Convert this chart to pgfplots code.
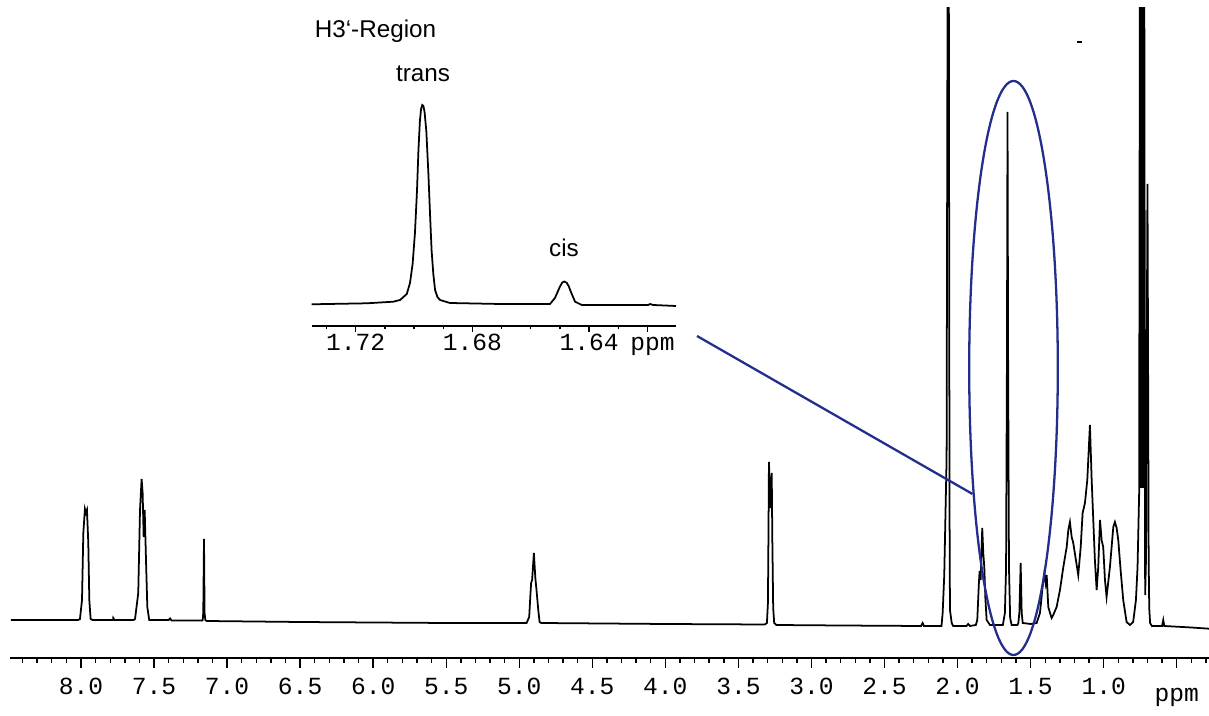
\documentclass[border=0pt]{standalone}
\usepackage{fontspec}
\setmainfont{Liberation Sans}
\newfontfamily\monofont{Liberation Mono}
\usepackage{pgfplots}
\pgfplotsset{compat=1.18}
\definecolor{markblue}{RGB}{35,45,140}

% 1 px of the reference = 0.02cm
\begin{document}
\begin{tikzpicture}
\path[use as bounding box] (0,0) rectangle (24.18cm,14.32cm);

% main spectrum
\begin{axis}[
    at={(0.2cm,1.16cm)}, anchor=south west,
    scale only axis, width=23.98cm, height=13cm,
    x dir=reverse,
    xmin=0.279, xmax=8.486, ymin=0, ymax=650,
    axis x line=bottom, axis y line=none,
    x axis line style={-, line width=1.1pt},
    tick align=outside,
    major tick length=0.2cm, minor tick length=0.1cm,
    every tick/.style={black, line width=0.8pt},
    xtick={0.5,1,1.5,2,2.5,3,3.5,4,4.5,5,5.5,6,6.5,7,7.5,8},
    xticklabels={{\raisebox{-0.15cm}{ppm}\hspace{0.2cm}},1.0,1.5,2.0,2.5,3.0,3.5,4.0,4.5,5.0,5.5,6.0,6.5,7.0,7.5,8.0},
    minor xtick={0.3,0.4,0.6,0.7,0.8,0.9,1.1,1.2,1.3,1.4,1.6,1.7,1.8,1.9,2.1,2.2,2.3,2.4,2.6,2.7,2.8,2.9,3.1,3.2,3.3,3.4,3.6,3.7,3.8,3.9,4.1,4.2,4.3,4.4,4.6,4.7,4.8,4.9,5.1,5.2,5.3,5.4,5.6,5.7,5.8,5.9,6.1,6.2,6.3,6.4,6.6,6.7,6.8,6.9,7.1,7.2,7.3,7.4,7.6,7.7,7.8,7.9,8.1,8.2,8.3,8.4},
    xticklabel style={font=\monofont\fontsize{14}{16}\selectfont, text height=1.6ex, text depth=0pt, anchor=north, yshift=-0.1cm},
]
\addplot[black, line width=1pt] coordinates {
(8.48,38) (8.10,38) (8.02,38) (8.007,39) (7.993,58) (7.984,125) (7.973,149) (7.966,145) (7.959,148) (7.950,115) (7.943,58) (7.934,39) (7.92,38)
(7.78,38) (7.779,40) (7.77,38)
(7.64,38) (7.630,39) (7.608,65) (7.596,148) (7.585,179) (7.578,165) (7.571,121) (7.564,148) (7.555,98) (7.546,51) (7.533,38)
(7.40,38) (7.39,39.5) (7.38,37.5) (7.17,37.5) (7.167,38) (7.163,45) (7.158,119) (7.154,45) (7.149,38) (7.14,37)
(6.5,36) (5.5,35) (4.95,35) (4.932,41) (4.925,60) (4.919,75) (4.912,78) (4.900,105) (4.890,80) (4.882,68) (4.870,48) (4.861,36) (4.85,35)
(4.0,34) (3.32,33.5) (3.305,35) (3.298,55) (3.294,130) (3.291,196) (3.284,165) (3.278,150) (3.272,185) (3.268,120) (3.262,50) (3.255,35) (3.24,33)
(2.8,32.5) (2.25,32) (2.239,35) (2.23,32) (2.11,32) (2.102,45) (2.091,83) (2.075,200) (2.068,700) (2.060,700) (2.055,150) (2.052,48) (2.040,35) (2.03,32)
(1.94,32) (1.927,34) (1.915,32) (1.875,33) (1.865,38) (1.854,75) (1.849,87) (1.842,78) (1.831,130) (1.824,105) (1.817,91) (1.810,61) (1.801,38) (1.778,33)
(1.69,33) (1.676,45) (1.668,90) (1.662,300) (1.658,546) (1.654,300) (1.648,90) (1.640,40) (1.630,33)
(1.590,33) (1.584,35) (1.577,45) (1.568,95) (1.561,45) (1.554,35) (1.50,34)
(1.459,35) (1.436,45) (1.418,71) (1.406,85) (1.397,75) (1.390,83) (1.379,51) (1.367,45) (1.356,40) (1.345,43)
(1.322,51) (1.299,68) (1.276,91) (1.253,111) (1.242,128) (1.231,136) (1.219,121) (1.208,115) (1.190,98) (1.174,83)
(1.157,111) (1.144,145) (1.128,155) (1.112,178) (1.094,233) (1.082,178) (1.071,138) (1.060,98) (1.048,68)
(1.037,91) (1.025,138) (1.014,118) (1.003,111) (0.991,78) (0.980,61)
(0.957,91) (0.934,131) (0.923,136) (0.911,130) (0.900,118) (0.884,88) (0.866,58) (0.843,36) (0.820,33) (0.798,36)
(0.779,58) (0.768,91) (0.757,165) (0.752,700) (0.749,170) (0.746,700) (0.743,170) (0.740,700) (0.737,170) (0.734,700) (0.731,170) (0.728,700) (0.725,170) (0.722,700)
(0.716,63) (0.710,100) (0.705,300) (0.700,474) (0.696,300) (0.692,100) (0.688,50) (0.682,35) (0.670,32)
(0.60,32) (0.592,38) (0.585,32) (0.40,30.5) (0.279,29.3)
};
\end{axis}

% inset: H3' region
\begin{axis}[
    at={(6.234cm,7.8cm)}, anchor=south west,
    scale only axis, width=7.286cm, height=4.42cm,
    x dir=reverse,
    xmin=1.6102, xmax=1.7351, ymin=0, ymax=221,
    clip=false,
    axis x line=bottom, axis y line=none,
    x axis line style={-, line width=1.1pt},
    tick align=outside,
    major tick length=0.12cm, minor tick length=0.07cm,
    every tick/.style={black, line width=0.8pt},
    xtick={1.62,1.64,1.68,1.72},
    xticklabels={{\hspace*{0.2cm}ppm},1.64,1.68,1.72},
    minor xtick={1.61,1.63,1.65,1.66,1.67,1.69,1.70,1.71,1.73},
    xticklabel style={font=\monofont\fontsize{14}{16}\selectfont, text height=1.6ex, text depth=0pt, anchor=north, yshift=0.05cm},
]
\addplot[black, line width=1pt] coordinates {
(1.7351,21.7) (1.7162,22.7) (1.7071,24.3) (1.7048,26) (1.7025,32) (1.7014,43) (1.7005,62) (1.6997,93) (1.6990,135) (1.6985,176) (1.6980,205) (1.6976,217) (1.6972,221) (1.6968,220) (1.6964,214) (1.6958,195) (1.6951,153) (1.6945,110) (1.6940,76) (1.6934,52) (1.6928,36) (1.6920,29) (1.6911,26) (1.6877,23)
(1.6705,22) (1.6534,22) (1.6517,28) (1.6508,34) (1.6500,39.3) (1.6492,43.5) (1.6485,44.5) (1.6477,43.3) (1.6470,40) (1.6465,36) (1.6455,29) (1.6448,24.3) (1.6425,21)
(1.6248,21) (1.6197,21) (1.6191,22) (1.6180,21) (1.6102,20)
};
\end{axis}

\node[anchor=base, inner sep=0, font=\fontsize{13.8}{16}\selectfont] at (7.51cm,13.57cm) {H3‘-Region};
\node[anchor=base, inner sep=0, font=\fontsize{13.8}{16}\selectfont] at (8.46cm,12.69cm) {trans};
\node[anchor=base, inner sep=0, font=\fontsize{13.8}{16}\selectfont] at (11.28cm,9.19cm) {cis};

% highlight of the H3' signals
\draw[markblue, line width=1.3pt] (20.27cm,6.96cm) ellipse (0.886cm and 5.74cm);
\draw[markblue, line width=1.3pt] (13.94cm,7.6cm) -- (19.45cm,4.44cm);
\draw[black, line width=1.4pt] (21.54cm,13.48cm) -- (21.64cm,13.48cm);
\end{tikzpicture}
\end{document}
